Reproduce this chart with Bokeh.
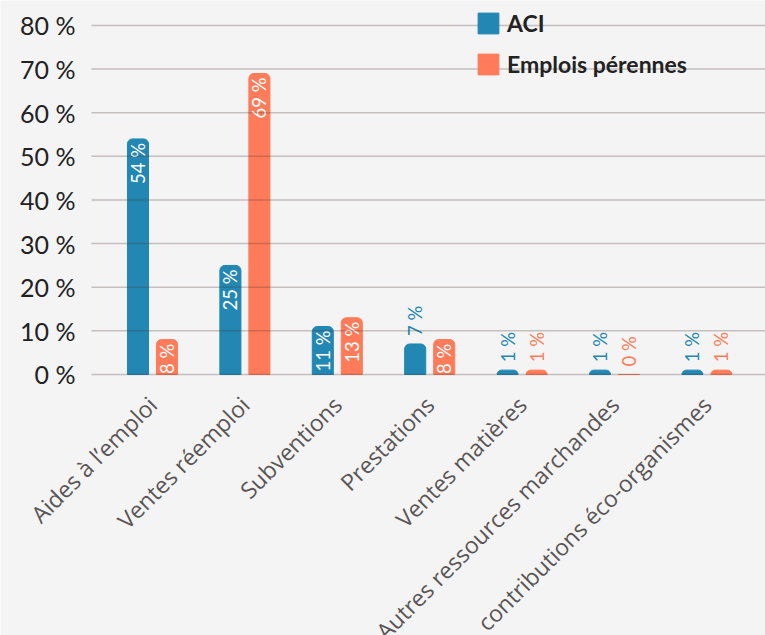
import math
import pandas as pd
from bokeh.plotting import figure
from bokeh.models import ColumnDataSource, Range1d, Legend, LegendItem
from bokeh.core.properties import value
from bokeh.embed import file_html
from bokeh.resources import INLINE

# ---- data -------------------------------------------------------------
categories = ["Aides à l\u2019emploi", "Ventes réemploi", "Subventions", "Prestations",
              "Ventes matières", "Autres ressources marchandes",
              "contributions éco-organismes"]
aci = [54, 25, 11, 7, 1, 1, 1]
emplois = [8, 69, 13, 8, 1, 0, 1]
series_names = ["ACI", "Emplois pérennes"]
y_ticks = [0, 10, 20, 30, 40, 50, 60, 70, 80]
y_tick_labels = [f"{t} %" for t in y_ticks]

# ---- style ------------------------------------------------------------
BG = "#f4f4f4"
COLORS = ["#2287b3", "#ff7b59"]
FONT = "Lato"
OFFSET = 0.157
BAR_W = 0.228
INSIDE_MIN = 8
X_LO, X_HI = -1.645, 6.634      # whole canvas width
GRID_LO = -0.66                 # where the value grid starts
Y_LO, Y_HI = -59.83, 85.73      # whole canvas height

# the frame covers the whole canvas so that the rotated category labels
# (which run off the bottom / left in the reference) are drawn completely
p = figure(width=765, height=635, output_backend="svg", toolbar_location=None,
           x_range=Range1d(X_LO, X_HI), y_range=Range1d(Y_LO, Y_HI),
           min_border_left=0, min_border_right=0, min_border_top=0,
           min_border_bottom=0)
p.background_fill_color = BG
p.border_fill_color = BG
p.outline_line_color = None
p.xaxis.visible = False
p.yaxis.visible = False
p.xgrid.grid_line_color = None
p.ygrid.grid_line_color = None

# ---- value axis: labels + grid lines ----------------------------------
ysrc = ColumnDataSource(dict(y=y_ticks, text=y_tick_labels,
                             x0=[GRID_LO] * len(y_ticks), x1=[X_HI] * len(y_ticks)))
p.text(x="x0", y="y", text="text", source=ysrc, x_offset=-16,
       text_align="right", text_baseline="middle",
       text_font=value(FONT), text_font_size="25px", text_color="#222222")

items = []
for k, (name, vals) in enumerate(zip(series_names, [aci, emplois])):
    off = -OFFSET if k == 0 else OFFSET
    df = pd.DataFrame({"x": [i + off for i in range(len(categories))],
                       "top": vals,
                       "label": [f"{v} %" for v in vals]})
    src = ColumnDataSource(df)
    r = p.vbar(x="x", top="top", bottom=0, width=BAR_W, source=src,
               fill_color=COLORS[k], line_color=COLORS[k], line_width=1,
               border_radius=(5, 5, 0, 0))
    items.append(LegendItem(label=name, renderers=[r]))
    inside = ColumnDataSource(df[df["top"] >= INSIDE_MIN])
    outside = ColumnDataSource(df[df["top"] < INSIDE_MIN])
    p.text(x="x", y="top", text="label", source=inside, angle=math.pi / 2,
           text_align="right", text_baseline="middle", y_offset=4,
           text_color="white", text_font=value(FONT), text_font_size="18.5px")
    p.text(x="x", y="top", text="label", source=outside, angle=math.pi / 2,
           text_align="left", text_baseline="middle", y_offset=-8,
           text_color=COLORS[k], text_font=value(FONT), text_font_size="18.5px")

# grid lines drawn over the bars, as in the reference
p.segment(x0="x0", x1="x1", y0="y", y1="y", source=ysrc,
          line_color="#4a3535", line_alpha=0.28, line_width=1.5)

# ---- category labels (rotated) -----------------------------------------
cat_src = ColumnDataSource(dict(x=list(range(len(categories))),
                                y=[0] * len(categories), text=categories))
p.text(x="x", y="y", text="text", source=cat_src, angle=math.pi / 4,
       text_align="right", text_baseline="middle", y_offset=26,
       text_font=value("Open Sans"), text_font_size="23px", text_color="#5a5555")

legend = Legend(items=items, location=(475, 557), orientation="vertical",
                glyph_width=26, glyph_height=26, label_height=26, spacing=13,
                label_standoff=6, padding=0, margin=0,
                border_line_color=None, background_fill_alpha=0,
                label_text_font=FONT, label_text_font_size="23px",
                label_text_font_style="bold", label_text_color="#222222")
p.add_layout(legend)

open("out.html", "w").write(file_html(p, INLINE))
